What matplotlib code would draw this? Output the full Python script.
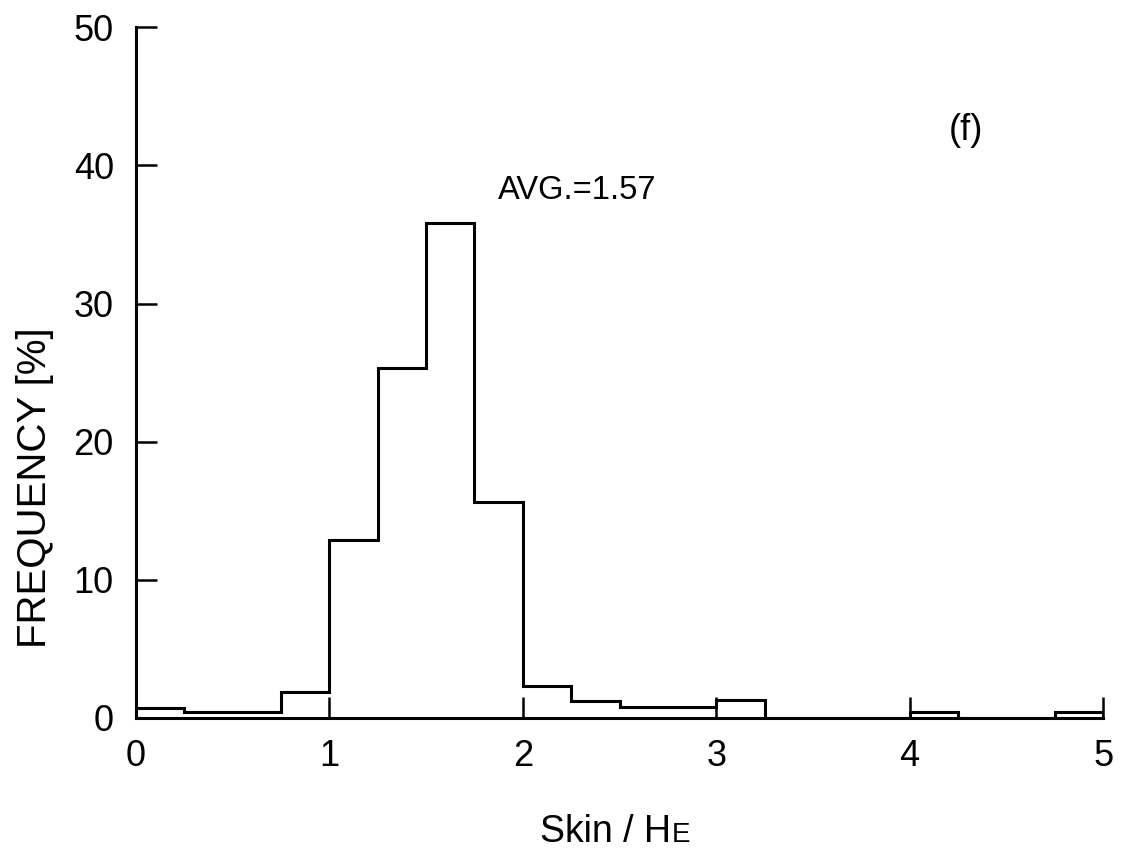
import numpy as np
import matplotlib.pyplot as plt

plt.rcParams['font.family'] = ['Liberation Sans', 'DejaVu Sans']

# bin edges (Skin / HE) and frequency [%] per bin
edges = np.arange(0, 5.01, 0.25)
freq = [0.75, 0.45, 0.45, 1.9, 12.9, 25.3, 35.8, 15.6, 2.3, 1.2,
        0.8, 0.8, 1.3, 0.0, 0.0, 0.0, 0.4, 0.0, 0.0, 0.45]

fig = plt.figure(figsize=(11.21, 8.49), dpi=100)
ax = fig.add_axes([0.1213, 0.1543, 0.8627, 0.8137])

ax.stairs(freq, edges, baseline=0, fill=False, color='black', linewidth=2.2)

ax.set_xlim(0, 5)
ax.set_ylim(0, 50)
ax.set_xticks([0, 1, 2, 3, 4, 5])
ax.set_yticks([0, 10, 20, 30, 40, 50])
ax.spines['top'].set_visible(False)
ax.spines['right'].set_visible(False)
for s in ['left', 'bottom']:
    ax.spines[s].set_linewidth(2.2)
ax.tick_params(direction='in', length=15, width=1.8, labelsize=26)
ax.tick_params(axis='y', pad=16)
ax.tick_params(axis='x', pad=15)

ax.text(1.87, 38.2, 'AVG.=1.57', fontsize=23.5, ha='left', va='center')
ax.text(4.29, 42.5, '(f)', fontsize=26, ha='center', va='center')

fig.text(0.031, 0.426, 'FREQUENCY [%]', rotation=90, fontsize=29,
         ha='center', va='center')
fig.text(0.599, 0.008, 'Skin / H', fontsize=27, ha='right', va='baseline')
fig.text(0.599, 0.008, 'E', fontsize=20, ha='left', va='baseline')

fig.savefig('out.png', dpi=100)
